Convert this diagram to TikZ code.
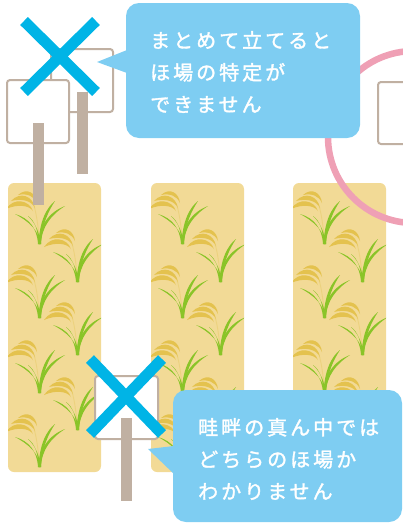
\documentclass[tikz,border=0pt]{standalone}
\usepackage{fontspec}
\newfontfamily\jpfont[LetterSpace=15,FakeBold=1.6]{Noto Sans CJK JP}
\definecolor{fieldcol}{RGB}{242,218,150}
\definecolor{leafcol}{RGB}{138,196,40}
\definecolor{graincol}{RGB}{228,194,78}
\definecolor{stemcol}{RGB}{236,210,126}
\definecolor{postcol}{RGB}{192,176,162}
\definecolor{crosscol}{RGB}{0,180,230}
\definecolor{bubblecol}{RGB}{126,205,242}
\definecolor{ringcol}{RGB}{239,160,181}
\tikzset{
  field/.style={fill=fieldcol, rounded corners=6},
  signboard/.style={draw=postcol, fill=white, line width=2, rounded corners=3},
  post/.style={fill=postcol},
  cross/.style={draw=crosscol, line width=11},
  bubble/.style={fill=bubblecol},
  ring/.style={draw=ringcol, line width=6.5},
  bubtext/.style={text=white, align=left, inner sep=0,
    font=\jpfont\fontsize{20}{32}\selectfont},
  rice/.pic={
    % thin stalk carrying the ears
    \draw[stemcol, line width=0.9] (0.5,-3) .. controls (-1,-20) and (-3,-32) .. (-5,-38);
    % leaves
    \fill[leafcol] (-1,0) .. controls (-2,-16) and (-10,-26) .. (-24,-30)
      .. controls (-9,-22) and (0,-13) .. (1.2,0) -- cycle;
    \fill[leafcol] (-0.5,0) .. controls (0,-18) and (10,-32) .. (26,-38)
      .. controls (12,-29) and (2.5,-17) .. (2,0) -- cycle;
    \fill[leafcol] (-0.5,0) .. controls (0.5,-22) and (7,-36) .. (16,-43)
      .. controls (9.5,-33) and (3,-20) .. (2,0) -- cycle;
    \fill[leafcol] (-0.5,0) .. controls (-1,-14) and (-4,-23) .. (-11,-28)
      .. controls (-3,-20) and (0.5,-12) .. (1.5,0) -- cycle;
    % drooping ears
    \fill[graincol] (-2,-41) .. controls (-3,-51) and (-12,-57) .. (-21,-49)
      .. controls (-12,-51) and (-5,-48) .. (-2,-41) -- cycle;
    \fill[graincol] (-4,-36) .. controls (-6,-48) and (-19,-53) .. (-28,-43)
      .. controls (-17,-46) and (-7,-43) .. (-4,-36) -- cycle;
    \fill[graincol] (-6,-33) .. controls (-10,-44) and (-25,-47) .. (-33,-35)
      .. controls (-22,-40) and (-10,-39) .. (-6,-33) -- cycle;
  }
}
\begin{document}
\begin{tikzpicture}[x=1pt, y=-1pt]
\useasboundingbox (0,0) rectangle (403,523);
% three paddy fields with rows of rice
\foreach \fx in {8,151,293} {
  \fill[field] (\fx,183) rectangle ++(93,289);
  \begin{scope}
    \clip[rounded corners=6] (\fx,183) rectangle ++(93,289);
    \foreach \py in {244,318,393,467} { \pic at (\fx+31,\py) {rice}; }
    \foreach \py in {282,355,430} { \pic at (\fx+69,\py) {rice}; }
  \end{scope}
}
% two signs set up together
\draw[signboard] (51,49) rectangle (113,112);
\fill[post] (77,92) rectangle (88,174);
\draw[signboard] (7,80) rectangle (69,143);
\fill[post] (33,123) rectangle (44,205);
\draw[cross] (24,21) -- (96,92);
\draw[cross] (96,21) -- (24,92);
% sign in the middle of the levee
\draw[signboard] (95,376) rectangle (158,439);
\fill[post] (121,418) rectangle (132,501);
\draw[cross] (90,359) -- (162,434);
\draw[cross] (162,359) -- (90,434);
% correct placement, circled
\draw[signboard] (378,82) rectangle (441,144);
\draw[ring] (414,137) circle (86);
% speech bubbles
\fill[bubble, rounded corners=13] (126,3) rectangle (360,138);
\fill[bubble] (127,50) -- (97,62) -- (127,73) -- cycle;
\node[bubtext, anchor=west] (topmsg) at (150,72) {まとめて立てると\\ほ場の特定が\\できません};
\fill[bubble, rounded corners=13] (173,390) rectangle (402,522);
\fill[bubble] (174,446) -- (148,449) -- (174,474) -- cycle;
\node[bubtext, anchor=west] (botmsg) at (198,459) {畦畔の真ん中では\\どちらのほ場か\\わかりません};
\end{tikzpicture}
\end{document}
